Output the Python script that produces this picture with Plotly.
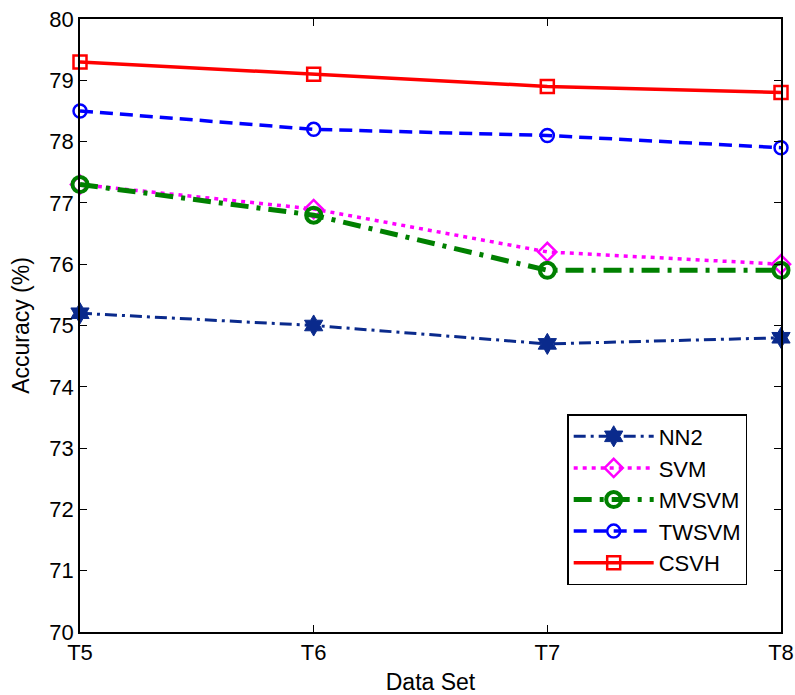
import plotly.graph_objects as go

categories = ["T5", "T6", "T7", "T8"]
nn2 = [75.2, 75.0, 74.7, 74.8]
svm = [77.3, 76.9, 76.2, 76.0]
mvsvm = [77.3, 76.8, 75.9, 75.9]
twsvm = [78.5, 78.2, 78.1, 77.9]
csvh = [79.3, 79.1, 78.9, 78.8]
y_ticks = list(range(70, 81))

xs = list(range(len(categories)))

FONT = "Liberation Sans, Arial, Helvetica"

fig = go.Figure()

def add(name, ys, color, dash, width, symbol, msize, mlw):
    fig.add_trace(go.Scatter(
        x=xs, y=ys, name=name, mode="lines+markers",
        line=dict(color=color, dash=dash, width=width),
        marker=dict(symbol=symbol, size=msize, color=color,
                    line=dict(color=color, width=mlw)),
        cliponaxis=False,
    ))

add("NN2", nn2, "#0a2a8c", "12px,5px,3px,5px", 3, "hexagram", 16, 1)
add("SVM", svm, "#ff00ff", "4px,5px", 3.5, "diamond-open", 14, 2.5)
add("MVSVM", mvsvm, "#008000", "18px,8px,4px,8px", 5, "circle-open", 15, 4)
add("TWSVM", twsvm, "#0000ff", "13px,7px", 3.5, "circle-open", 13, 2.5)
add("CSVH", csvh, "#ff0000", "solid", 3.5, "square-open", 13, 2.5)

axis_common = dict(
    showline=True, linecolor="black", linewidth=1.5, mirror="allticks",
    ticks="inside", ticklen=7, tickcolor="black", showgrid=False, zeroline=False,
    automargin=False,
    tickfont=dict(family=FONT, size=22, color="black"),
)

fig.update_layout(
    width=795, height=695,
    margin=dict(l=80, r=14, t=19, b=63),
    paper_bgcolor="white", plot_bgcolor="white",
    font=dict(family=FONT, size=22, color="black"),
    xaxis=dict(range=[0, 3], tickvals=xs, ticktext=categories,
               title=dict(text="Data Set", standoff=10, font=dict(size=23)), **axis_common),
    yaxis=dict(range=[70, 80], tickvals=y_ticks,
               title=dict(text="Accuracy (%)", standoff=13, font=dict(size=23)), **axis_common),
    legend=dict(x=0.695, y=0.3556, xanchor="left", yanchor="top",
                bordercolor="black", borderwidth=1.5, bgcolor="white",
                font=dict(size=22), itemwidth=80, tracegroupgap=0),
    showlegend=True,
)

fig.write_html("out.html")
